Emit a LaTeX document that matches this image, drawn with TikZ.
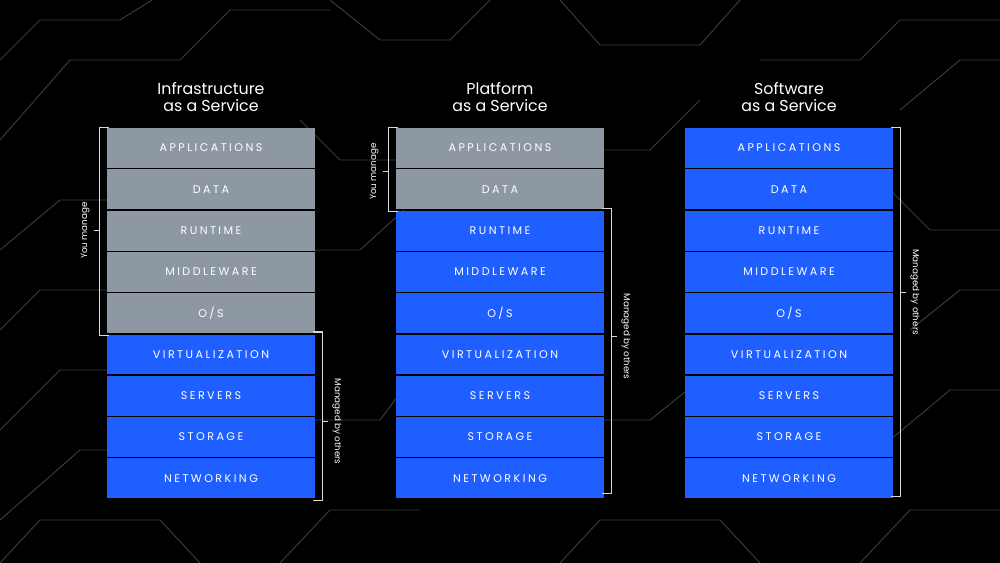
\documentclass[tikz,border=0pt]{standalone}
\usepackage{fontspec}
\setmainfont{Poppins}
\newfontfamily\capsfont[LetterSpace=22]{Poppins}
\definecolor{layergrey}{HTML}{8E98A2}
\definecolor{layerblue}{HTML}{1F5FFF}
\definecolor{gridline}{HTML}{3C3C3C}
\tikzset{
  layer/.style={rectangle, minimum width=178, minimum height=34, inner sep=0pt,
                text=white, font=\capsfont\fontsize{9.5}{10}\selectfont},
  you/.style={layer, fill=layergrey},
  other/.style={layer, fill=layerblue},
  title/.style={align=center, text=white, font=\fontsize{13.5}{15}\selectfont},
  brace/.style={draw=white!85!black, line width=0.9pt},
  sidelabel/.style={text=white, font=\fontsize{7.5}{8}\selectfont}
}
\begin{document}
\begin{tikzpicture}[x=0.03cm,y=-0.03cm]
  \fill[black] (0,0) rectangle (1000,563);
  \useasboundingbox (0,0) rectangle (1000,563);
  % background mesh
  \begin{scope}[draw=gridline, line width=0.8pt]
    \draw (0,60) -- (40,20) -- (120,20) -- (160,-5);
    \draw (0,140) -- (70,60) -- (180,60) -- (230,10) -- (330,10);
    \draw (330,0) -- (380,40) -- (450,40) -- (490,0);
    \draw (560,0) -- (600,45) -- (700,45) -- (740,0);
    \draw (760,60) -- (860,60) -- (900,20) -- (1000,20);
    \draw (900,110) -- (960,60) -- (1000,60);
    \draw (0,250) -- (60,200) -- (115,200);
    \draw (0,330) -- (40,290) -- (115,290);
    \draw (0,430) -- (60,370) -- (115,370);
    \draw (0,520) -- (80,450) -- (115,450);
    \draw (0,563) -- (40,520) -- (160,520) -- (200,563);
    \draw (300,120) -- (340,160) -- (404,160);
    \draw (300,250) -- (360,250) -- (404,210);
    \draw (310,420) -- (380,420) -- (410,380);
    \draw (280,563) -- (330,510) -- (420,510);
    \draw (589,150) -- (650,150) -- (700,100);
    \draw (600,420) -- (650,420) -- (700,380);
    \draw (560,563) -- (600,520) -- (720,520) -- (760,563);
    \draw (880,180) -- (930,230) -- (1000,230);
    \draw (910,330) -- (960,290) -- (1000,290);
    \draw (890,440) -- (950,390) -- (1000,390);
    \draw (860,563) -- (910,510) -- (1000,510);
  \end{scope}
  % titles
  \node[title] (t1) at (211,97) {Infrastructure\\as a Service};
  \node[title] (t2) at (500,97) {Platform\\as a Service};
  \node[title] (t3) at (789,97) {Software\\as a Service};
  % stacks
  \foreach \col/\cx/\nyou in {i/211/5, p/500/2, s/789/0} {
    \foreach \lab [count=\k] in {APPLICATIONS, DATA, RUNTIME, MIDDLEWARE, O/S,
                                 VIRTUALIZATION, SERVERS, STORAGE, NETWORKING} {
      \ifnum\k>\nyou
        \node[other] (\col\k) at (\cx,{148+(\k-1)*41.3}) {\lab};
      \else
        \node[you] (\col\k) at (\cx,{148+(\k-1)*41.3}) {\lab};
      \fi
    }
  }
  % IaaS brackets
  \draw[brace] ([xshift=2]i1.north west) -- ++(-9,0) coordinate (ia) |- ([xshift=2,yshift=-2]i5.south west);
  \draw[brace] (ia |- i3) -- ++(-6,0) node[sidelabel, left=0pt, rotate=90, anchor=south] {You manage};
  \draw[brace] ([xshift=-2,yshift=2]i6.north east) -- ++(9,0) coordinate (ib) |- ([xshift=-2,yshift=-2]i9.south east);
  \draw[brace] ([yshift=-4]ib |- i8.north) -- ++(6,0) node[sidelabel, rotate=-90, anchor=south] {Managed by others};
  % PaaS brackets
  \draw[brace] ([xshift=2]p1.north west) -- ++(-9,0) coordinate (pa) |- ([xshift=2,yshift=-2]p2.south west);
  \draw[brace] ([yshift=-2]pa |- p2.north) -- ++(-6,0) node[sidelabel, rotate=90, anchor=south] {You manage};
  \draw[brace] ([xshift=-2,yshift=2]p3.north east) -- ++(9,0) coordinate (pb) |- ([xshift=-2,yshift=4]p9.south east);
  \draw[brace] ([yshift=-2]pb |- p6.north) -- ++(6,0) node[sidelabel, rotate=-90, anchor=south] {Managed by others};
  % SaaS bracket
  \draw[brace] ([xshift=-2]s1.north east) -- ++(9,0) coordinate (sb) |- ([xshift=-2,yshift=2]s9.south east);
  \draw[brace] (sb |- s4.south) -- ++(6,0) node[sidelabel, rotate=-90, anchor=south] {Managed by others};
\end{tikzpicture}
\end{document}
